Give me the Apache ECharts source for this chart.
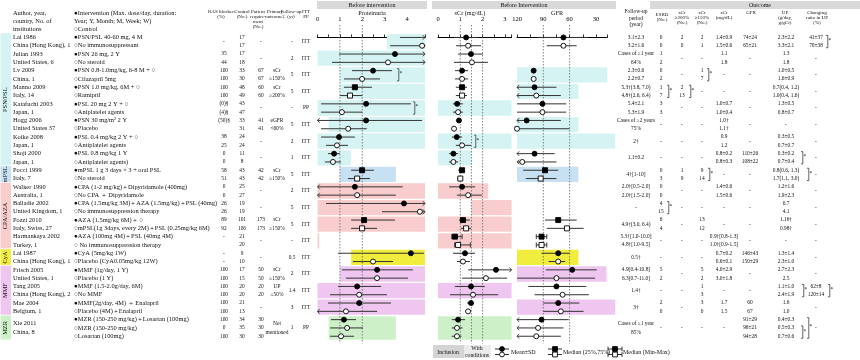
<!DOCTYPE html>
<html><head><meta charset="utf-8">
<script src="https://cdn.jsdelivr.net/npm/echarts@6/dist/echarts.min.js"></script>
<style>html,body{margin:0;padding:0;background:#fff}#c{width:860px;height:360px}</style>
</head><body><div id="c"></div><script>
const FONT = '"Liberation Serif","Times New Roman",serif';

// ---------------- DATA ----------------
const studies = [
 ['Lai 1986','China (Hong Kong), 1'],['Julian 1993','United States, 6'],['Lv 2009','China, 1'],
 ['Manno 2009','Italy, 14'],['Katafuchi 2003','Japan, 1'],['Hogg 2006','United States 37'],
 ['Koike 2008','Japan, 1'],['Shoji 2000','Japan, 1'],['Pocci 1999','Italy, 7'],
 ['Walker 1990','Australia, 1'],['Balladie 2002','United Kingdom, 1'],['Pozzi 2010','Italy, Swiss, 27'],
 ['Harmankaya 2002','Turkey, 1'],['Lai 1987','China (Hong Kong), 1'],['Frisch 2005','United States, 1'],
 ['Tang 2005','China (Hong Kong), 2'],['Mae 2004','Belgium, 1'],['Xie 2011','China, 8']
];
const arms = [
 ['●PSN/PSL 40-60 mg, 4 M','○No immunosuppressant'],
 ['●PSN 26 mg, 2 Y','○No steroid'],
 ['●PSN 0.8-1.0mg/kg, 6-8 M + ○','○Cilazapril 5mg'],
 ['●PSN 1.0 mg/kg, 6M + ○','○Ramipril'],
 ['●PSL 20 mg 2 Y + ○','○Aniplatelet agents'],
 ['●PSN 30 mg/m² 2 Y','○Placebo'],
 ['●PSL 0.4 mg/kg 2 Y + ○','○Antiplatelet agents'],
 ['●PSL 0.8 mg/kg 1 Y','○Antiplatelet agents)'],
 ['●mPSL 1 g 3 days × 3 + oral PSL','○No steroid'],
 ['●CPA (1-2 mg/kg)＋Dipyridamole (400mg)','○No CPA ＋ Dipyridamole'],
 ['●CPA (1.5mg/kg 3M)＋AZA (1.5mg/kg)＋PSL (40mg)','○No immunosuppression therapy'],
 ['●AZA (1.5mg/kg 6M)＋ ○','○mPSL(1g 3days, every 2M)＋PSL (0.25mg/kg 6M)'],
 ['●AZA (100mg 4M)＋PSL (40mg 4M)','○ No immunosuppression therapy'],
 ['●CyA (5mg/kg 1W)','○Placebo (CyA0.05mg/kg 12W)'],
 ['●MMF (1g/day, 1 Y)','○Placebo (1 Y)'],
 ['●MMF (1.5-2.0g/day, 6M)','○No MMF'],
 ['●MMF(2g/day, 4M) ＋ Enalapril','○Placebo (4M)＋Enalapril'],
 ['●MZR (150-250 mg/kg)＋Losartan (100mg)','○MZR (150-250 mg/kg)','○Losartan (100mg)']
];
const rasBlocker = ['-',['35','44'],['100','100'],['100','100'],['(0)§','(4)§'],['(50)§',''],['38','25'],['0','0'],['58','51'],['0','0'],['26','26'],['89','92'],['-',''],['-','-'],['100','100'],['100','100'],['100','100'],['100','0','100']];
const controlN = [['17','17'],['17','18'],['33','30'],['48','49'],['43','47'],['33','31'],['24','24'],['11','8'],['43','43'],['25','27'],['19','19'],['101','106'],['21','20'],['9','10'],['17','15'],['20','20'],['21','13'],['34','35','30']];
const patientReq = ['-','-',['67','67'],['60','60'],'-',['41','41'],'-','-',['42','42'],'-','-',['173','173'],'-','-',['50','50'],['20','20'],'-',['30','30','30']];
const primaryOutcome = ['','',['sCr','≥150%'],['sCr','≥200%'],'',['eGFR','<60%'],'','',['sCr','≥150%'],'','',['sCr','≥150%'],'','',['sCr','≥150%'],['UP','≤50%'],'',['Not','mentioned']];
const followUpYr = ['-','2','5','5','-','5','2','1','5','2','5','5','-','0.5','2','1.4','3','1'];
const ittPP = ['ITT','ITT','ITT','ITT','PP','ITT','ITT','ITT','ITT','ITT','ITT','ITT','ITT','ITT','ITT','ITT','ITT','PP'];
const followUpPeriod = [['3.1±2.3','3.2±1.6'],['Cases of ≥1 year','64%'],['2.3±0.6','2.2±0.7'],['5.3†(3.8, 7.0)','4.8†(2.6, 6.4)'],['5.4±2.1','5.3±1.9'],['Cases of ≥2 years','75%'],'2†','1.1±0.2','4†[1-10]',['2.0†[0.5-2.0]','2.0†[1.5-2.0]'],'-','4.9†(3.0, 6.4)',['5.3†[1.0-10.0]','4.8†[1.0-9.5]'],'0.5†',['4.9[0.4-10.8]','6.3[0.7-11.0]'],'1.4†','3†',['Cases of ≥1 year','85%']];
const esrd = [['0','0'],['1','2'],['0','2'],['1','7'],['3','3'],'-','-','-',['0','3'],['0','0'],['4','15'],['6','4'],'-','-',['5','2'],'-',['2','0'],'-'];
const scr200 = [['2','0'],'-','-',['2','13'],'-','-','-','-',['1','9'],'-','-','-','-','-','-','-','-','-'];
const scr150 = [['2','1'],'-',['1','7'],'-','-','-','-','-',['9','14'],'-','-',['13','12'],'-','-',['5','2'],['1','3'],['3','0'],'-'];
const scrOutcome = [['1.4±0.9','1.5±0.6'],['1.1','1.8'],'-','-',['1.0±0.7','1.0±0.4'],['1.0†','1.1†'],['0.9','1.2'],['0.8±0.2','0.8±0.3'],'-',['1.4±0.6','1.5±0.6'],'-','-',['0.9†[0.8-1.3]','1.0†[0.9-1.5]'],['0.7±0.2','0.6±0.1'],['4.0±2.9','3.0±1.8'],'-',['1.7','1.5'],'-'];
const gfrOutcome = [['74±24','65±21'],'-','-','-','-','-','-',['110±26','108±22'],'-','-','-','-','-',['146±43','150±29'],'-','-',['60','67'],['91±29','96±21','94±28']];
const upOutcome = [['2.3±2.2','3.3±2.1'],['1.3','1.8'],['1.0±0.5','1.6±0.9'],['0.7(0.4, 1.2)','1.0(0.4, 1.6)'],['1.3±0.5','0.8±0.7'],'-',['0.3±0.5','0.7±0.7'],['0.3±0.2','0.7±0.4'],['0.8(0.6, 1.3)','1.7(1.1, 3.0)'],['1.2±1.6','1.9±2.3'],['0.7','4.1'],['1.16†','0.98†'],'-',['1.3±1.4','2.3±1.0'],['2.7±2.3','2.5'],['1.1±1.0','2.4±1.9'],['1.6','1.0'],['0.4±0.3','0.5±0.3','0.7±0.6']];
const upRatio = [['41±37','70±38'],'-','-','-','-','-','-','-','-','-','-','-','-','-','-',['62±8','120±14'],'-','-'];

// forest rows: [study, line, shape(c=mean±SD, s=median IQR, m=median min-max), filled, centre, low, high]
const proteinuria = [
 [0,0,'c',1,5.2,3.68,6.0],[0,1,'c',0,4.67,3.24,6.0],
 [1,0,'c',1,3.46,0.96,6.0],[1,1,'c',0,3.15,0.65,6.0],
 [2,0,'c',1,2.48,1.54,3.33],[2,1,'c',0,1.99,1.18,2.79],
 [3,0,'s',1,1.67,1.18,2.43],[3,1,'s',0,1.45,1.0,2.0],
 [4,0,'c',1,2.17,0.16,4.17],[4,1,'c',0,1.09,0.16,2.0],
 [5,0,'c',1,2.17,-0.3,4.67],[5,1,'c',0,1.37,0.16,2.2],
 [6,0,'c',1,0.96,0.16,1.67],[6,1,'c',0,0.87,0.38,1.36],
 [7,0,'c',1,0.74,0.47,1.0],[7,1,'c',0,0.69,0.33,1.05],
 [8,0,'s',1,1.99,1.5,2.52],[8,1,'s',0,1.77,1.36,2.34],
 [9,0,'c',1,1.67,-0.5,3.8],[9,1,'c',0,1.77,-0.5,3.5],
 [10,0,'c',1,3.86,0.38,6.0],[10,1,'c',0,4.57,2.88,6.0],
 [11,0,'s',1,2.08,1.5,3.46],[11,1,'s',0,1.99,1.5,2.66],
 [13,0,'c',1,4.17,0.92,4.75],[13,1,'c',0,2.48,1.58,3.37],
 [14,0,'c',1,2.66,1.09,4.26],[14,1,'c',0,2.66,1.27,4.04],
 [15,0,'c',1,1.77,0.92,2.84],[15,1,'c',0,1.86,0.56,3.1],
 [16,0,'c',1,1.86,0.47,3.28],[16,1,'c',0,1.27,-0.3,2.66],
 [17,0,'c',1,1.18,0.6,1.72],[17,1,'c',0,1.32,0.56,2.03],[17,2,'c',0,1.05,0.56,1.63]
];
const serumCr = [
 [0,0,'c',1,1.26,0.72,1.8],[0,1,'c',0,1.35,0.81,1.93],
 [1,0,'c',1,1.48,0.9,2.02],[1,1,'c',0,1.52,0.72,2.24],
 [2,0,'c',1,1.08,0.76,1.35],[2,1,'c',0,1.08,0.76,1.35],
 [3,0,'s',1,1.08,0.8,1.3],[3,1,'s',0,1.08,0.8,1.3],
 [4,0,'c',1,0.86,0.67,1.12],[4,1,'c',0,0.9,0.67,1.12],
 [5,0,'c',1,0.94,0.94,0.94],[5,1,'c',0,0.72,0.72,0.72],
 [6,0,'c',1,0.84,0.62,1.08],[6,1,'c',0,1.08,0.8,1.48],
 [7,0,'c',1,0.69,0.5,0.9],[7,1,'c',0,0.69,0.5,0.9],
 [8,0,'s',1,1.08,0.9,1.21],[8,1,'s',0,1.0,0.85,1.12],
 [9,0,'c',1,1.08,0.5,1.66],[9,1,'c',0,1.35,0.85,1.97],
 [11,0,'s',1,1.12,0.94,1.43],[11,1,'s',0,1.26,1.03,1.48],
 [12,0,'m',1,0.76,0.62,1.08],[12,1,'m',0,0.9,0.75,1.45],
 [13,0,'c',1,1.21,0.67,1.66],[13,1,'c',0,1.12,0.85,1.43],
 [14,0,'c',1,2.6,1.35,3.4],[14,1,'c',0,2.15,1.08,3.1],
 [15,0,'c',1,1.48,0.76,2.1],[15,1,'c',0,1.57,0.54,2.7],
 [16,0,'c',1,1.48,1.3,1.57],[16,1,'c',0,1.35,1.21,1.48],
 [17,0,'c',1,0.9,0.62,1.21],[17,1,'c',0,0.85,0.62,1.1],[17,2,'c',0,0.85,0.62,1.05]
];
const gfr = [
 [0,0,'c',1,67,96,39],[0,1,'c',0,67,86,52],
 [2,0,'c',1,101,101,101],[2,1,'c',0,101,101,101],
 [3,0,'c',1,100,135,75],[3,1,'c',0,98,135,70],
 [4,0,'c',1,91,120,64],[4,1,'c',0,91,120,64],
 [5,0,'c',1,109,135,70],[5,1,'c',0,120,135,60],
 [7,0,'c',1,100,135,77],[7,1,'c',0,114,135,75],
 [8,0,'s',1,88,113,73],[8,1,'s',0,93,110,75],
 [11,0,'s',1,73,88,52],[11,1,'s',0,63,86,44],
 [12,0,'m',1,92,98,86],[12,1,'m',0,92,98,86],
 [13,0,'c',1,73,92,60],[13,1,'c',0,73,84,65],
 [14,0,'c',1,57,87,29],[14,1,'c',0,75,120,31],
 [15,0,'c',1,75,107,41],[15,1,'c',0,68,100,38],
 [16,0,'c',1,73,90,49],[16,1,'c',0,70,90,44],
 [17,0,'c',1,92,135,61],[17,1,'c',0,96,135,67],[17,2,'c',0,98,135,70]
];
// inclusion ranges: [study, from, to]
const proteinuriaIncl = [[0,3.1,4.8],[1,0,4.8],[2,1,4.8],[3,1,4.8],[4,0,4.8],[5,0.5,4.8],[6,0,4.8],[7,0,1.5],[8,1,3.5],[9,0,4.8],[10,0,4.8],[11,0,4.8],[12,0,0.08],[13,1.5,4.8],[14,1,4.8],[15,0,4.8],[16,0,4.8],[17,0.5,3.5]];
const serumCrIncl = [[4,0,3.3],[6,0,3.3],[7,0,1.5],[9,0,2.25],[10,1.5,3.3],[11,0,3.3],[12,0,3.3],[15,0,3.3],[17,0,3.3]];
const gfrIncl = [[2,17,120],[3,50,120],[5,50,120],[6,8,120],[8,50,120],[13,50,120],[14,18,120],[16,8,120]];
const proteinuriaRefs = [1,2], serumCrRefs = [1,1.5,2], gfrRefs = [90,60];
const proteinuriaTicks = [0,1,2,3,4], serumCrTicks = [0,1,2,3], gfrTicks = [120,90,60,30];
// significance brackets: [x px, study, first line, last line]
const brackets = [[397,2,0,1],[413,4,0,1],[474,6,0,1],[826,0,0,1],[707,2,0,1],[667,3,0,1],[689,3,0,1],[801,7,0,1],[708,8,0,1],[807,8,0,1],[667,10,0,1],[802,15,0,1],[828,15,0,1],[801,17,1,2],[807,17,0,2]];
const groups = [
 {name:'PSN/PSL',first:0,last:7,color:'#d5f3f3'},
 {name:'mPSL',first:8,last:8,color:'#c7e0f2'},
 {name:'CPA/AZA',first:9,last:12,color:'#f9cdcd'},
 {name:'CyA',first:13,last:13,color:'#f1ed3c'},
 {name:'MMF',first:14,last:16,color:'#eec6ef'},
 {name:'MZR',first:17,last:17,color:'#cdf0c9'}
];

// ---------------- LAYOUT ----------------
const TOP = 25, H = 318.3, YMIN = -1.5, YMAX = 36.85;
const nLines = i => i === 17 ? 3 : 2;
const firstLine = i => 2 * i;
const centreLine = i => firstLine(i) + (nLines(i) - 1) / 2;
const colorOf = i => groups.find(g => i >= g.first && i <= g.last).color;

function cellLines(v, i) {
  if (typeof v === 'string') return v === '' ? [] : [{k: centreLine(i), t: v}];
  const off = (nLines(i) - v.length) / 2;
  return v.map((t, j) => ({k: firstLine(i) + off + j, t})).filter(c => c.t !== '');
}
const texts = [];
function addCol(arr, x, align, size) {
  arr.forEach((v, i) => cellLines(v, i).forEach(c => texts.push({x, k: c.k, t: c.t, align, size})));
}
addCol(studies, 13, 'left', 6.4);
addCol(arms, 74, 'left', 6.4);
addCol(rasBlocker, 224, 'center', 5.4);
addCol(controlN, 242, 'center', 5.4);
addCol(patientReq, 261, 'center', 5.4);
addCol(primaryOutcome, 277, 'center', 5.4);
addCol(followUpYr, 292, 'center', 5.4);
addCol(ittPP, 306, 'center', 5.4);
addCol(followUpPeriod, 636, 'center', 5.4);
addCol(esrd, 661, 'center', 5.4);
addCol(scr200, 682, 'center', 5.4);
addCol(scr150, 702, 'center', 5.4);
addCol(scrOutcome, 724, 'center', 5.4);
addCol(gfrOutcome, 750, 'center', 5.4);
addCol(upOutcome, 786, 'center', 5.4);
addCol(upRatio, 816, 'center', 5.4);

const LINE = '#333';
function forestRender(rows, lo, hi) {
  return function (params, api) {
    const r = rows[params.dataIndex];
    const k = firstLine(r[0]) + r[1];
    const clamp = v => Math.max(lo, Math.min(hi, v));
    const y = api.coord([clamp(r[4]), k])[1];
    const pc = api.coord([clamp(r[4]), k])[0];
    const p1 = api.coord([clamp(r[5]), k])[0];
    const p2 = api.coord([clamp(r[6]), k])[0];
    const ch = [];
    ch.push({type: 'line', shape: {x1: p1, y1: y, x2: p2, y2: y}, style: {stroke: LINE, lineWidth: 1}});
    [[r[5], p1], [r[6], p2]].forEach(([v, p]) => {
      if (v < lo || v > hi) {
        const d = Math.sign(p - pc) || 1;
        ch.push({type: 'polyline', shape: {points: [[p - d * 2.2, y - 2.3], [p, y], [p - d * 2.2, y + 2.3]]}, style: {stroke: LINE, lineWidth: 0.9, fill: null}});
      } else if (r[2] === 'm') {
        ch.push({type: 'line', shape: {x1: p, y1: y - 2.5, x2: p, y2: y + 2.5}, style: {stroke: LINE, lineWidth: 1}});
      }
    });
    if (r[4] >= lo && r[4] <= hi) {
      const st = {fill: r[3] ? '#000' : '#fff', stroke: '#000', lineWidth: 0.9};
      if (r[2] === 'c') ch.push({type: 'circle', shape: {cx: pc, cy: y, r: 2.5}, style: st});
      else ch.push({type: 'rect', shape: {x: pc - 2.5, y: y - 2.5, width: 5, height: 5}, style: st});
    }
    return {type: 'group', children: ch};
  };
}
function bandRender(bands) {
  return function (params, api) {
    const b = bands[params.dataIndex];
    const a = api.coord([b[1], firstLine(b[0]) - 0.42]);
    const c = api.coord([b[2], firstLine(b[0]) + nLines(b[0]) - 1 + 0.42]);
    return {type: 'rect', shape: {x: Math.min(a[0], c[0]), y: a[1], width: Math.abs(c[0] - a[0]), height: c[1] - a[1]}, style: {fill: colorOf(b[0])}};
  };
}
function refRender(params, api) {
  const x = api.coord([api.value(0), 0])[0];
  const cs = params.coordSys;
  return {type: 'line', shape: {x1: x, y1: cs.y, x2: x, y2: cs.y + cs.height}, style: {stroke: '#666', lineWidth: 0.8, lineDash: [1.5, 1.5]}};
}

const axisCommon = {
  type: 'value', position: 'top', splitLine: {show: false},
  axisLine: {show: true, lineStyle: {color: '#000', width: 1}},
  axisTick: {show: true, length: 3, lineStyle: {color: '#000', width: 0.8}},
  axisLabel: {fontSize: 6.5, margin: 2.5, color: '#000', fontFamily: FONT}
};
const plots = [
  {grid: {left: 317.5, width: 107.5}, min: 0, max: 4.8, inverse: false, rows: proteinuria, bands: proteinuriaIncl, refs: proteinuriaRefs, ticks: proteinuriaTicks, minor: [0.5,1.5,2.5,3.5,4.5]},
  {grid: {left: 438, width: 73.6}, min: 0, max: 3.3, inverse: false, rows: serumCr, bands: serumCrIncl, refs: serumCrRefs, ticks: serumCrTicks, minor: [0.5,1.5,2.5]},
  {grid: {left: 517, width: 90.3}, min: 17, max: 120, inverse: true, rows: gfr, bands: gfrIncl, refs: gfrRefs, ticks: gfrTicks, minor: [105,75,45]}
];

const grids = [{left: 0, top: TOP, width: 860, height: H}];
const xAxes = [{gridIndex: 0, type: 'value', min: 0, max: 860, show: false}];
const yAxes = [{gridIndex: 0, type: 'value', min: YMIN, max: YMAX, inverse: true, show: false}];
const series = [];

plots.forEach((p, n) => {
  const gi = n + 1;
  grids.push({left: p.grid.left, width: p.grid.width, top: TOP, height: H});
  xAxes.push(Object.assign({}, axisCommon, {gridIndex: gi, min: p.min, max: p.max, inverse: p.inverse,
    axisTick: Object.assign({}, axisCommon.axisTick, {customValues: p.ticks.concat(p.minor, [p.inverse ? p.min : p.max])}),
    axisLabel: Object.assign({}, axisCommon.axisLabel, {customValues: p.ticks})}));
  yAxes.push({gridIndex: gi, type: 'value', min: YMIN, max: YMAX, inverse: true, show: false});
  series.push({type: 'custom', xAxisIndex: gi, yAxisIndex: gi, z: 1, silent: true, clip: false,
    renderItem: bandRender(p.bands), data: p.bands.map(b => [b[1], firstLine(b[0])])});
  series.push({type: 'custom', xAxisIndex: gi, yAxisIndex: gi, z: 2, silent: true,
    renderItem: refRender, data: p.refs.map(v => [v, 0])});
  series.push({type: 'custom', xAxisIndex: gi, yAxisIndex: gi, z: 3, silent: true,
    renderItem: forestRender(p.rows, p.min, p.max), data: p.rows.map(r => [r[4], firstLine(r[0]) + r[1]])});
});

// group strip on the left
series.push({type: 'custom', xAxisIndex: 0, yAxisIndex: 0, z: 1, silent: true,
  data: groups.map(g => [0, firstLine(g.first)]),
  renderItem: (params, api) => {
    const g = groups[params.dataIndex];
    const a = api.coord([0.5, firstLine(g.first) - 0.5]);
    const b = api.coord([11, firstLine(g.last) + nLines(g.last) - 1 + 0.5]);
    return {type: 'group', children: [
      {type: 'rect', shape: {x: a[0], y: a[1], width: b[0] - a[0], height: b[1] - a[1] - 0.8}, style: {fill: g.color}},
      {type: 'text', x: (a[0] + b[0]) / 2, y: (a[1] + b[1]) / 2, rotation: Math.PI / 2,
        style: {text: g.name, fontSize: 6.4, fontFamily: FONT, fill: '#111', align: 'center', verticalAlign: 'middle'}}
    ]};
  }});
// table texts
series.push({type: 'custom', xAxisIndex: 0, yAxisIndex: 0, z: 5, silent: true,
  data: texts.map(t => [t.x, t.k]),
  renderItem: (params, api) => {
    const t = texts[params.dataIndex];
    const p = api.coord([t.x, t.k]);
    return {type: 'text', x: p[0], y: p[1], style: {text: t.t, fontSize: t.size, fontFamily: FONT, fill: '#111', align: t.align, verticalAlign: 'middle'}};
  }});
// brackets
series.push({type: 'custom', xAxisIndex: 0, yAxisIndex: 0, z: 5, silent: true,
  data: brackets.map(b => [b[0], firstLine(b[1]) + b[2]]),
  renderItem: (params, api) => {
    const b = brackets[params.dataIndex];
    const a = api.coord([b[0], firstLine(b[1]) + b[2]]);
    const c = api.coord([b[0], firstLine(b[1]) + b[3]]);
    const y0 = a[1] - 2, y1 = c[1] + 2, x = a[0];
    return {type: 'group', children: [
      {type: 'polyline', shape: {points: [[x, y0], [x + 1.8, y0], [x + 1.8, y1], [x, y1]]}, style: {stroke: '#222', lineWidth: 0.7, fill: null}},
      {type: 'text', x: x + 2.5, y: (y0 + y1) / 2 - 1, style: {text: '*', fontSize: 5.5, fontFamily: FONT, fill: '#111', verticalAlign: 'middle'}}
    ]};
  }});

// ---------------- HEADERS / LEGEND (static layout) ----------------
const G = [];
function txt(x, y, s, size, align) {
  G.push({type: 'text', x, y, silent: true, style: {text: s, fontSize: size || 5, fontFamily: FONT, fill: '#111', align: align || 'center', verticalAlign: 'middle'}});
}
function stack(x, y0, dy, lines, size) { lines.forEach((s, i) => txt(x, y0 + i * dy, s, size)); }
G.push({type: 'rect', silent: true, shape: {x: 317, y: 1, width: 110, height: 8}, style: {fill: '#d9d9d9'}});
G.push({type: 'rect', silent: true, shape: {x: 432, y: 1, width: 184, height: 8}, style: {fill: '#d9d9d9'}});
G.push({type: 'rect', silent: true, shape: {x: 650, y: 1, width: 210, height: 8}, style: {fill: '#d9d9d9'}});
txt(372, 5, 'Before intervention', 6);
txt(524, 5, 'Before Intervention', 6);
txt(760, 5, 'Outcome', 6);
txt(372, 13, 'Proteinuria', 6.2);
txt(470, 13, 'sCr (mg/dL)', 6.2);
txt(557, 13, 'GFR', 6.2);
txt(13, 13, 'Author, year,', 6.4, 'left'); txt(13, 21, 'country, No. of', 6.4, 'left'); txt(13, 29, 'institutions', 6.4, 'left');
txt(74, 13, '●Intervention (Max. dose/day, duration:', 6.4, 'left'); txt(74, 21, 'Year; Y, Month; M, Week; W)', 6.4, 'left'); txt(74, 29, '○Control', 6.4, 'left');
stack(221, 12, 4.8, ['RAS blocker', '(%)']);
stack(242, 12, 4.8, ['Control', '(No.)']);
stack(258, 12, 4.8, ['Patient', 'require-', 'ment', '(No.)']);
stack(275, 12, 4.8, ['Primary', 'outcome‡']);
stack(291, 12, 4.8, ['Follow-up', '(yr)']);
stack(306, 12, 4.8, ['ITT', 'PP']);
stack(636, 12, 6.5, ['Follow-up', 'period', '(year)'], 5.5);
stack(662, 14.5, 5, ['ESRD', '(No.)']);
stack(682, 12.5, 5, ['sCr', '≥200%', '(No.)']);
stack(702, 12.5, 5, ['sCr', '≥150%', '(No.)']);
stack(724, 12.5, 5, ['sCr', '(mg/dL)']);
stack(751, 12.5, 5, ['GFR']);
stack(785, 12.5, 5, ['UP', '(g/day,', 'g/gCr)']);
stack(817, 12.5, 5, ['Changing', 'ratio in UP', '(%)']);
// legend
G.push({type: 'rect', silent: true, shape: {x: 433, y: 345, width: 31, height: 13}, style: {fill: '#d4d4d4'}});
G.push({type: 'rect', silent: true, shape: {x: 464, y: 345, width: 27, height: 13}, style: {fill: '#ebebeb'}});
txt(448, 352, 'Inclusion', 5.8); txt(477, 348.5, 'With', 5.8); txt(477, 355.3, 'conditions', 5.8);
function glyph(x, shape, caps) {
  [[349, 1], [354.5, 0]].forEach(([y, f]) => {
    G.push({type: 'line', silent: true, shape: {x1: x - 7, y1: y, x2: x + 7, y2: y}, style: {stroke: LINE, lineWidth: 1}});
    if (caps) [x - 7, x + 7].forEach(cx => G.push({type: 'line', silent: true, shape: {x1: cx, y1: y - 2.3, x2: cx, y2: y + 2.3}, style: {stroke: LINE, lineWidth: 1}}));
    const st = {fill: f ? '#000' : '#fff', stroke: '#000', lineWidth: 0.9};
    if (shape === 'c') G.push({type: 'circle', silent: true, shape: {cx: x, cy: y, r: 2.4}, style: st});
    else G.push({type: 'rect', silent: true, shape: {x: x - 2.4, y: y - 2.4, width: 4.8, height: 4.8}, style: st});
  });
}
glyph(502, 'c'); txt(511, 352, 'Mean±SD', 6, 'left');
glyph(555, 's'); txt(563, 352, 'Median (25%,75%)', 6, 'left');
glyph(615, 's', true); txt(623, 352, 'Median (Min-Max)', 6, 'left');

const chart = echarts.init(document.getElementById('c'), null, {renderer: 'canvas'});
chart.setOption({animation: false, backgroundColor: '#fff', grid: grids, xAxis: xAxes, yAxis: yAxes, series, graphic: G});
</script></body></html>
